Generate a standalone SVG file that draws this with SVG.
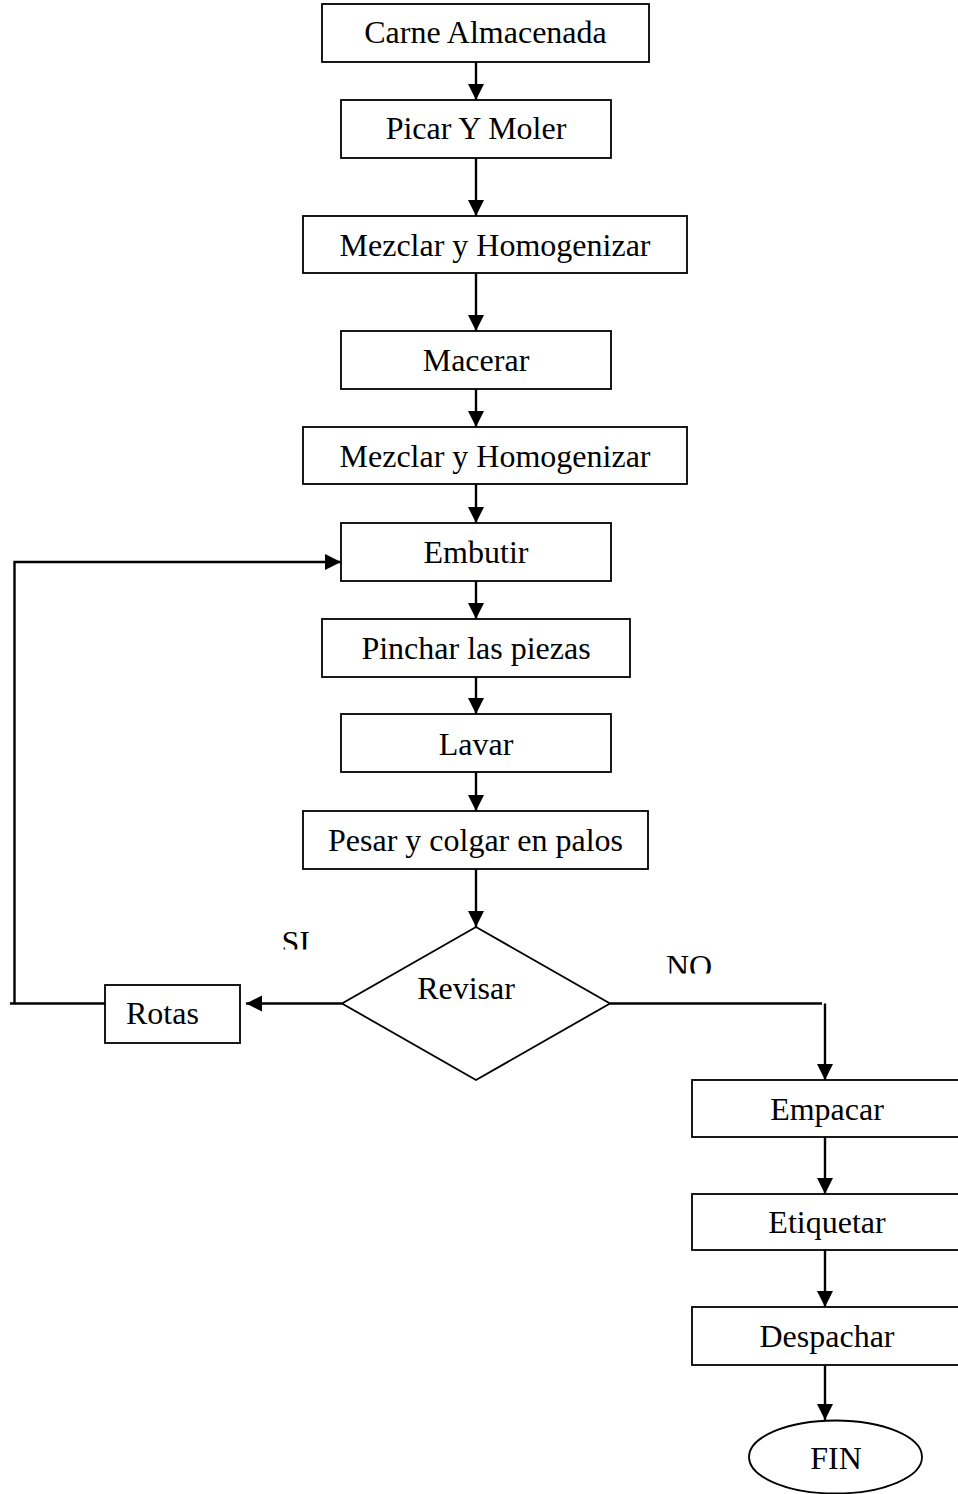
<svg xmlns="http://www.w3.org/2000/svg" width="958" height="1494" viewBox="0 0 958 1494">
  <style>
    .box { fill: #ffffff; stroke: #000000; stroke-width: 1.8; }
    .lbl { font-family: "Liberation Serif", "Times New Roman", serif; font-size: 32px; fill: #000000; text-anchor: middle; }
    .tag { font-family: "Liberation Serif", "Times New Roman", serif; font-size: 32px; fill: #000000; }
    .wire { fill: none; stroke: #000000; stroke-width: 2.4; }
  </style>
  <defs>
    <marker id="head" markerUnits="userSpaceOnUse" markerWidth="18" markerHeight="18" refX="16" refY="8" orient="auto">
      <path d="M0,0 L16,8 L0,16 Z" fill="#000000"/>
    </marker>
    <clipPath id="clipSi"><rect x="270" y="920" width="60" height="29.5"/></clipPath>
    <clipPath id="clipNo"><rect x="655" y="945" width="70" height="28.5"/></clipPath>
  </defs>
  <rect x="0" y="0" width="958" height="1494" fill="#ffffff"/>

  <!-- connectors -->
  <g id="connectors">
    <path class="wire" d="M476,62 V100" marker-end="url(#head)"/>
    <path class="wire" d="M476,158 V216" marker-end="url(#head)"/>
    <path class="wire" d="M476,273 V331" marker-end="url(#head)"/>
    <path class="wire" d="M476,389 V427" marker-end="url(#head)"/>
    <path class="wire" d="M476,484 V523" marker-end="url(#head)"/>
    <path class="wire" d="M476,581 V619" marker-end="url(#head)"/>
    <path class="wire" d="M476,677 V714" marker-end="url(#head)"/>
    <path class="wire" d="M476,772 V811" marker-end="url(#head)"/>
    <path class="wire" d="M476,869 V927" marker-end="url(#head)"/>
    <!-- SI branch -->
    <path class="wire" d="M342,1003.5 H246" marker-end="url(#head)"/>
    <path class="wire" d="M106,1003.5 H10"/>
    <path class="wire" d="M14.5,1003.5 V562 H341" marker-end="url(#head)"/>
    <!-- NO branch -->
    <path class="wire" d="M610,1003.5 H822"/>
    <path class="wire" d="M825,1003.5 V1080" marker-end="url(#head)"/>
    <path class="wire" d="M825,1137 V1194" marker-end="url(#head)"/>
    <path class="wire" d="M825,1250 V1307" marker-end="url(#head)"/>
    <path class="wire" d="M825,1365 V1420" marker-end="url(#head)"/>
  </g>

  <!-- branch labels -->
  <g id="label-si" clip-path="url(#clipSi)">
    <text class="tag" x="281.5" y="953">SI</text>
  </g>
  <g id="label-no" clip-path="url(#clipNo)">
    <text class="tag" x="666" y="977">NO</text>
  </g>

  <!-- process steps -->
  <g id="n-carne">
    <rect class="box" x="322" y="4" width="327" height="58"/>
    <text class="lbl" x="485.5" y="43">Carne Almacenada</text>
  </g>
  <g id="n-picar">
    <rect class="box" x="341" y="100" width="270" height="58"/>
    <text class="lbl" x="476" y="139">Picar Y Moler</text>
  </g>
  <g id="n-mezclar1">
    <rect class="box" x="303" y="216" width="384" height="57"/>
    <text class="lbl" x="495" y="256">Mezclar y Homogenizar</text>
  </g>
  <g id="n-macerar">
    <rect class="box" x="341" y="331" width="270" height="58"/>
    <text class="lbl" x="476" y="371">Macerar</text>
  </g>
  <g id="n-mezclar2">
    <rect class="box" x="303" y="427" width="384" height="57"/>
    <text class="lbl" x="495" y="467">Mezclar y Homogenizar</text>
  </g>
  <g id="n-embutir">
    <rect class="box" x="341" y="523" width="270" height="58"/>
    <text class="lbl" x="476" y="563">Embutir</text>
  </g>
  <g id="n-pinchar">
    <rect class="box" x="322" y="619" width="308" height="58"/>
    <text class="lbl" x="476" y="659">Pinchar las piezas</text>
  </g>
  <g id="n-lavar">
    <rect class="box" x="341" y="714" width="270" height="58"/>
    <text class="lbl" x="476" y="755">Lavar</text>
  </g>
  <g id="n-pesar">
    <rect class="box" x="303" y="811" width="345" height="58"/>
    <text class="lbl" x="475.5" y="851">Pesar y colgar en palos</text>
  </g>
  <g id="n-revisar">
    <polygon class="box" points="476,927 610,1003.5 476,1080 342,1003.5"/>
    <text class="lbl" x="466" y="999">Revisar</text>
  </g>
  <g id="n-rotas">
    <rect class="box" x="105" y="985" width="135" height="58"/>
    <text class="tag" x="126" y="1024">Rotas</text>
  </g>
  <g id="n-empacar">
    <rect class="box" x="692" y="1080" width="272" height="57"/>
    <text class="lbl" x="827" y="1120">Empacar</text>
  </g>
  <g id="n-etiquetar">
    <rect class="box" x="692" y="1194" width="272" height="56"/>
    <text class="lbl" x="827" y="1233">Etiquetar</text>
  </g>
  <g id="n-despachar">
    <rect class="box" x="692" y="1307" width="272" height="58"/>
    <text class="lbl" x="827" y="1347">Despachar</text>
  </g>
  <g id="n-fin">
    <ellipse class="box" cx="835.5" cy="1457" rx="86.5" ry="36.5"/>
    <text class="lbl" x="836" y="1469">FIN</text>
  </g>
</svg>
